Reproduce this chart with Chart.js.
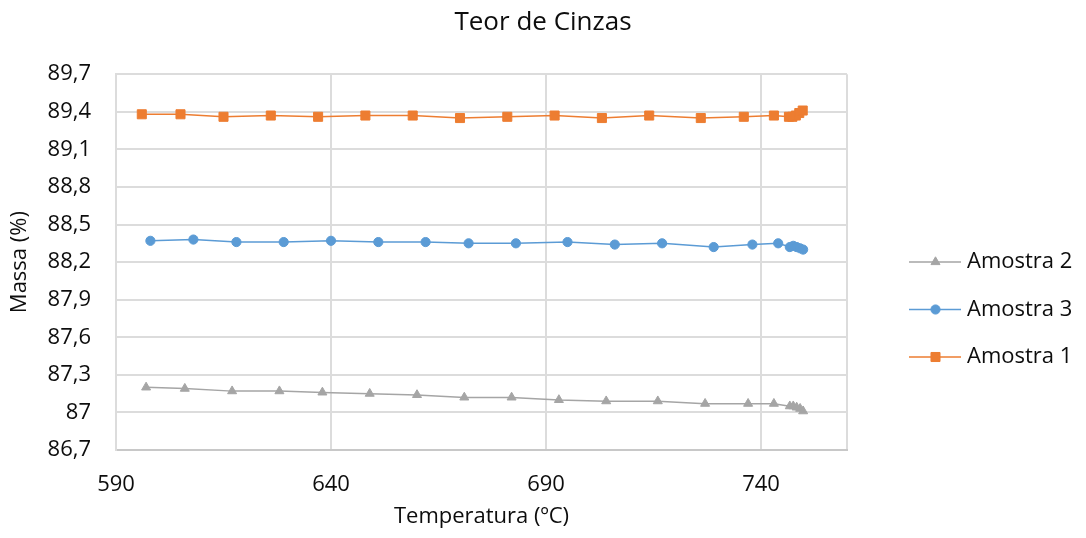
<!DOCTYPE html>
<html>
<head>
<meta charset="utf-8">
<script src="https://cdn.jsdelivr.net/npm/chart.js@4.4.1/dist/chart.umd.min.js"></script>
<style>
  html, body { margin: 0; padding: 0; background: #fff; }
  #wrap { width: 1086px; height: 538px; }
</style>
</head>
<body>
<div id="wrap"><canvas id="cinzas"></canvas></div>
<script>
/* ---- data ---- */
const seriesNames = ['Amostra 2', 'Amostra 3', 'Amostra 1'];

const tempA2 = [597, 606, 617, 628, 638, 649, 660, 671, 682, 693, 704, 716, 727, 737, 743, 746.7, 747.5, 748.3, 749.1, 749.8];
const massA2 = [87.20, 87.19, 87.17, 87.17, 87.16, 87.15, 87.14, 87.12, 87.12, 87.10, 87.09, 87.09, 87.07, 87.07, 87.07, 87.05, 87.05, 87.04, 87.03, 87.01];

const tempA3 = [598, 608, 618, 629, 640, 651, 662, 672, 683, 695, 706, 717, 729, 738, 744, 746.7, 747.5, 748.3, 749.1, 749.8];
const massA3 = [88.37, 88.38, 88.36, 88.36, 88.37, 88.36, 88.36, 88.35, 88.35, 88.36, 88.34, 88.35, 88.32, 88.34, 88.35, 88.32, 88.33, 88.32, 88.31, 88.30];

const tempA1 = [596, 605, 615, 626, 637, 648, 659, 670, 681, 692, 703, 714, 726, 736, 743, 746.5, 747.3, 748.1, 748.9, 749.7];
const massA1 = [89.38, 89.38, 89.36, 89.37, 89.36, 89.37, 89.37, 89.35, 89.36, 89.37, 89.35, 89.37, 89.35, 89.36, 89.37, 89.36, 89.36, 89.37, 89.39, 89.41];

const xTicks = [590, 640, 690, 740, 760];   // 760 = right edge, no label
const yTicks = [86.7, 87, 87.3, 87.6, 87.9, 88.2, 88.5, 88.8, 89.1, 89.4, 89.7];

/* ---- look ---- */
const FONT   = "'Open Sans', sans-serif";
const INK    = '#0d0d0d';
const GRID   = '#dcdcdc';

const pairs = (xs, ys) => xs.map((x, i) => ({ x: x, y: ys[i] }));

function mkSeries(label, data, color, style, radius) {
  return {
    label: label,
    data: data,
    borderColor: color,
    backgroundColor: color,
    borderWidth: 1.5,
    pointStyle: style,
    pointRadius: radius,
    pointHoverRadius: radius,
    pointBackgroundColor: color,
    pointBorderColor: color,
    pointBorderWidth: 1,
    tension: 0,
    fill: false
  };
}

/* ── legend drawn to the right, line + marker + label ── */
const sideLegend = {
  id: 'sideLegend',
  afterDraw(chart) {
    const ctx = chart.ctx;
    const x0 = chart.chartArea.right + 62;
    chart.data.datasets.forEach((ds, i) => {
      const y = 262 + i * 47.5;
      ctx.save();
      ctx.strokeStyle = ds.borderColor;
      ctx.lineWidth = 1.5;
      ctx.beginPath();
      ctx.moveTo(x0, y);
      ctx.lineTo(x0 + 52, y);
      ctx.stroke();
      ctx.fillStyle = ds.backgroundColor;
      ctx.lineWidth = 1;
      Chart.helpers.drawPoint(ctx, {
        pointStyle: ds.pointStyle, radius: ds.pointRadius, rotation: 0, borderWidth: 1
      }, x0 + 26.5, y);
      ctx.fillStyle = INK;
      ctx.font = '22px ' + FONT;
      ctx.textBaseline = 'middle';
      ctx.textAlign = 'left';
      ctx.fillText(ds.label, x0 + 58, y);
      ctx.restore();
    });
  }
};

new Chart(document.getElementById('cinzas'), {
  type: 'line',
  data: {
    datasets: [
      mkSeries(seriesNames[0], pairs(tempA2, massA2), '#a5a5a5', 'triangle', 5.2),
      mkSeries(seriesNames[1], pairs(tempA3, massA3), '#5b9bd5', 'circle', 4.6),
      mkSeries(seriesNames[2], pairs(tempA1, massA1), '#ed7d31', 'rect', 6.4)
    ]
  },
  plugins: [sideLegend],
  options: {
    responsive: true,
    maintainAspectRatio: false,
    animation: false,
    layout: { padding: 0 },
    plugins: {
      legend: { display: false },
      tooltip: { enabled: false },
      title: {
        display: true,
        text: 'Teor de Cinzas',
        color: INK,
        font: { family: FONT, size: 26, weight: 'normal' },
        padding: { top: 7, bottom: 36 }
      }
    },
    scales: {
      x: {
        type: 'linear',
        min: 590,
        max: 760,
        afterBuildTicks: s => { s.ticks = xTicks.map(v => ({ value: v })); },
        afterFit: s => { s.height = 88; },
        grid: { color: GRID, lineWidth: 2, drawTicks: false },
        border: { color: '#c8c8c8', width: 2 },
        ticks: {
          color: INK,
          font: { family: FONT, size: 22 },
          padding: 22,
          maxRotation: 0,
          callback: v => (v === 760 ? '' : String(v))
        },
        title: {
          display: true,
          text: 'Temperatura (ºC)',
          color: INK,
          font: { family: FONT, size: 22 },
          padding: { top: 0, bottom: 8 }
        }
      },
      y: {
        min: 86.7,
        max: 89.7,
        afterBuildTicks: s => { s.ticks = yTicks.map(v => ({ value: v })); },
        afterFit: s => { s.width = 116; },
        grid: { color: GRID, lineWidth: 2, drawTicks: false },
        border: { color: GRID, width: 2 },
        ticks: {
          color: INK,
          font: { family: FONT, size: 22 },
          padding: 25,
          callback: v => String(Math.round(v * 10) / 10).replace('.', ',')
        },
        title: {
          display: true,
          text: 'Massa (%)',
          color: INK,
          font: { family: FONT, size: 22 },
          padding: { top: 7, bottom: 0 }
        }
      },
      /* empty box on the right that holds the legend */
      yR: {
        position: 'right',
        display: true,
        grid: { display: false },
        border: { display: false },
        ticks: { display: false },
        afterFit: s => { s.width = 239; }
      }
    }
  }
});
</script>
</body>
</html>
